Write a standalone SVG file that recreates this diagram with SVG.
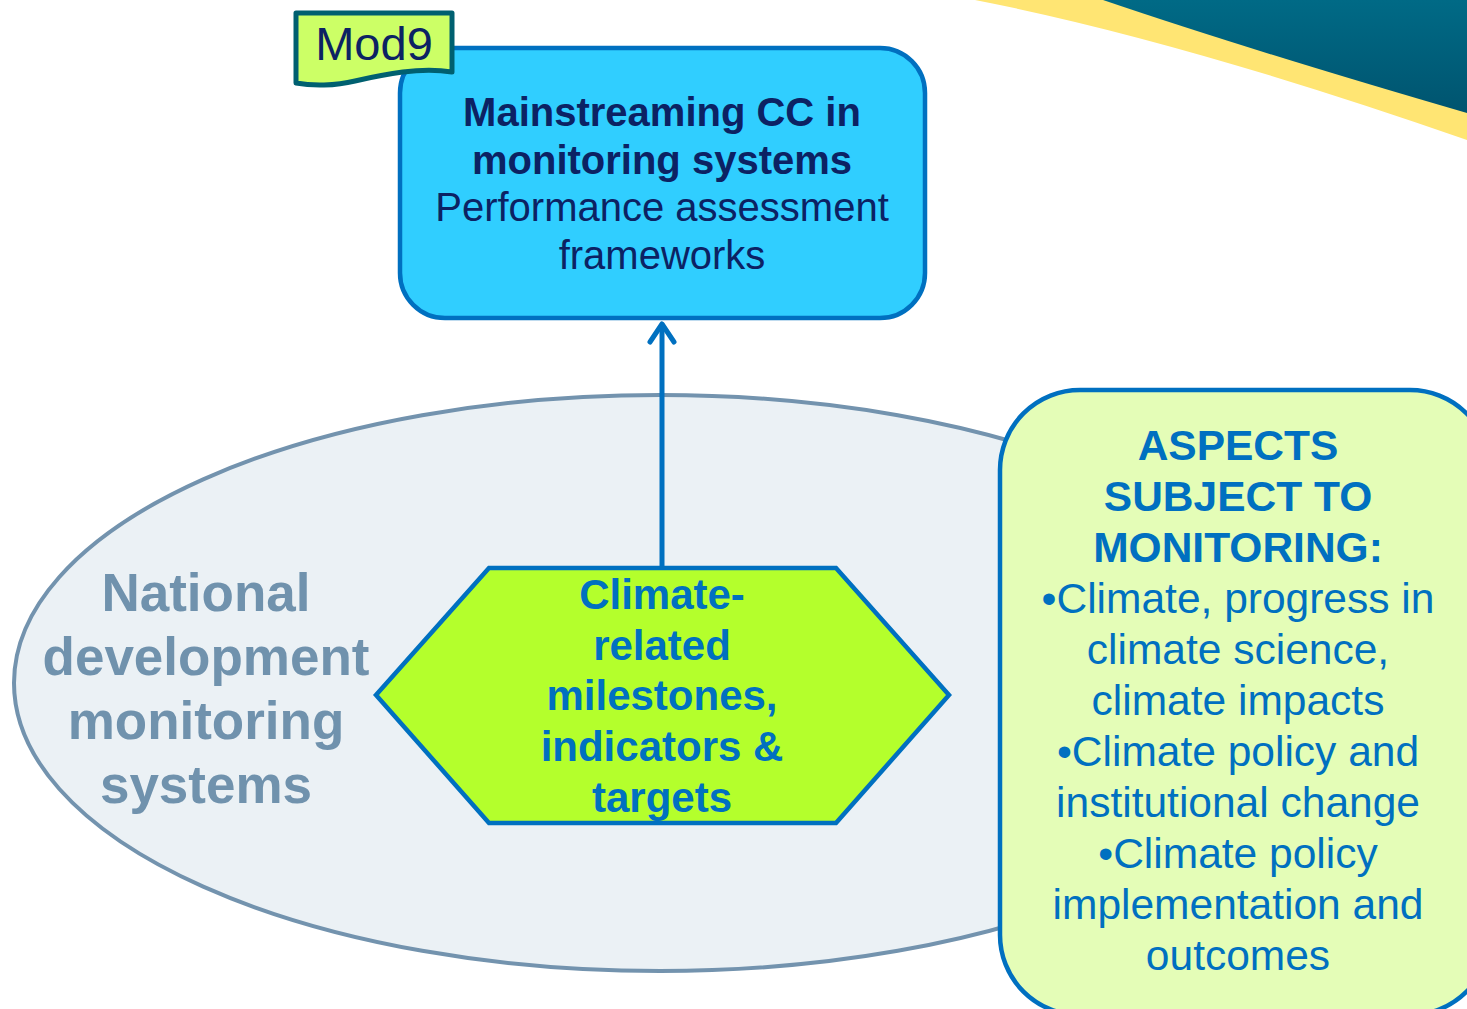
<svg xmlns="http://www.w3.org/2000/svg" width="1467" height="1009" viewBox="0 0 1467 1009">
<style>
text{font-family:"Liberation Sans",Arial,sans-serif;text-anchor:middle}
.b{font-weight:bold}
.navy{fill:#0C2263}
.blue{fill:#0070C0}
.grey{fill:#7092AD}
</style>
<defs>
<linearGradient id="teal" x1="0" y1="0" x2="0" y2="1">
<stop offset="0" stop-color="#006A86"/>
<stop offset="1" stop-color="#00546F"/>
</linearGradient>
</defs>
<rect width="1467" height="1009" fill="#FFFFFF"/>
<g id="decoration">
<path d="M975 0 Q1180 40 1467 140 L1467 0 Z" fill="#FFE573"/>
<path d="M1103 0 Q1250 50 1467 113 L1467 0 Z" fill="url(#teal)"/>
</g>
<g id="ellipse-node">
<ellipse cx="660" cy="683" rx="646" ry="288" fill="#EBF1F5" stroke="#7393AE" stroke-width="4"/>
<text class="b grey" font-size="53"><tspan x="206" y="611">National</tspan><tspan x="206" y="675">development</tspan><tspan x="206" y="739">monitoring</tspan><tspan x="206" y="803">systems</tspan></text>
</g>
<g id="top-box">
<rect x="400" y="48" width="525" height="270" rx="45" fill="#30CEFF" stroke="#0070C0" stroke-width="4.5"/>
<text class="navy" font-size="40"><tspan class="b" x="662" y="126">Mainstreaming CC in</tspan><tspan class="b" x="662" y="174">monitoring systems</tspan><tspan x="662" y="221">Performance assessment</tspan><tspan x="662" y="269">frameworks</tspan></text>
</g>
<g id="mod9-tag">
<path d="M296 13 L452 13 L452 72 C420 67 385 74 355 81 C335 86 312 86 296 83 Z" fill="#CCFF66" stroke="#006070" stroke-width="5" stroke-linejoin="round"/>
<text class="navy" font-size="47" x="374" y="60">Mod9</text>
</g>
<g id="connectors" fill="none" stroke="#0070C0" stroke-width="5" stroke-linecap="round" stroke-linejoin="round">
<line x1="662" y1="567" x2="662" y2="326"/>
<polyline points="650,342 662,324 674,342"/>
</g>
<g id="hexagon">
<polygon points="376,695 489,568 836,568 949,695 836,823 489,823" fill="#B4FF2C" stroke="#0070C0" stroke-width="4.5" stroke-linejoin="miter"/>
<text class="b blue" font-size="42"><tspan x="662" y="609">Climate-</tspan><tspan x="662" y="660">related</tspan><tspan x="662" y="710">milestones,</tspan><tspan x="662" y="761">indicators &amp;</tspan><tspan x="662" y="812">targets</tspan></text>
</g>
<g id="aspects-box">
<rect x="1000" y="390" width="490" height="625" rx="80" fill="#E4FDB7" stroke="#0070C0" stroke-width="4.5"/>
<text class="blue" font-size="42.5"><tspan class="b" x="1238" y="460">ASPECTS</tspan><tspan class="b" x="1238" y="511">SUBJECT TO</tspan><tspan class="b" x="1238" y="562">MONITORING:</tspan><tspan x="1238" y="613">•Climate, progress in</tspan><tspan x="1238" y="664">climate science,</tspan><tspan x="1238" y="715">climate impacts</tspan><tspan x="1238" y="766">•Climate policy and</tspan><tspan x="1238" y="817">institutional change</tspan><tspan x="1238" y="868">•Climate policy</tspan><tspan x="1238" y="919">implementation and</tspan><tspan x="1238" y="970">outcomes</tspan></text>
</g>
</svg>
